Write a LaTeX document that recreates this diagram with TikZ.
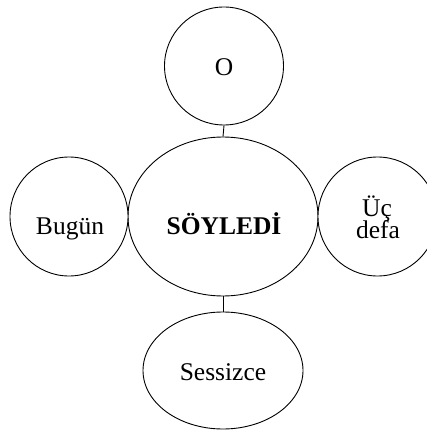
\documentclass[tikz,border=0pt]{standalone}
\usepackage{fontspec}
\setmainfont{Liberation Serif}
\usetikzlibrary{shapes.geometric}
\begin{document}
\begin{tikzpicture}[x=1pt,y=-1pt,
  bub/.style={draw=black,line width=0.9pt,ellipse,inner sep=0pt,fill=white},
  txt/.style={anchor=base,inner sep=0pt,font=\fontsize{25.5}{22}\selectfont,align=center},
  link/.style={draw=black,line width=0.9pt}]
\useasboundingbox (0,0) rectangle (427,430);
\fill[white] (0,0) rectangle (427,430);
\node[bub,minimum width=119pt,minimum height=118pt] (o) at (224,66) {};
\node[bub,minimum width=190pt,minimum height=159pt] (c) at (223,216.5) {};
\node[bub,minimum width=118pt,minimum height=119pt] (b) at (69,216.5) {};
\node[bub,minimum width=119pt,minimum height=119pt] (u) at (377.5,216.5) {};
\node[bub,minimum width=160pt,minimum height=117pt] (s) at (223,370.5) {};
\draw[link] (o.south) -- (c.north);
\draw[link] (c.south) -- (s.north);
\node[txt] (to) at (224,76) {O};
\node[txt] (tb) at (70,234) {Bugün};
\node[txt] (tc) at (224,234) {\bfseries SÖYLEDİ};
\node[txt] (tu1) at (377,216) {Üç};
\node[txt] (tu2) at (378,238) {defa};
\node[txt] (ts) at (223,380) {Sessizce};
\end{tikzpicture}
\end{document}
